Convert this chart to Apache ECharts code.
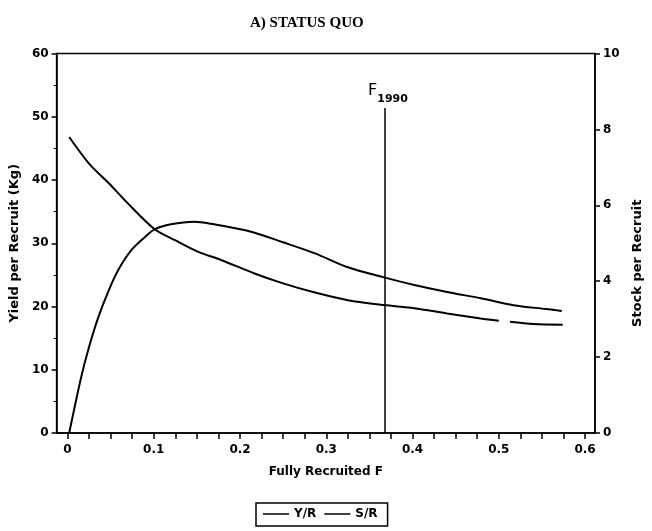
<!DOCTYPE html>
<html>
<head>
<meta charset="utf-8">
<script src="https://cdn.jsdelivr.net/npm/echarts@6/dist/echarts.min.js"></script>
<style>html,body{margin:0;padding:0;background:#fff;}#c{width:652px;height:531px;}</style>
</head>
<body>
<div id="c"></div>
<script>
// Fully recruited fishing mortality F (x) and Yield per Recruit (kg, left axis)
const yrF = [0.002, 0.016, 0.025, 0.036, 0.048, 0.059, 0.074, 0.090, 0.101, 0.120, 0.147, 0.170, 0.193, 0.216, 0.249, 0.287, 0.325, 0.367, 0.402, 0.440, 0.479, 0.517, 0.555, 0.573];
const yrV = [0, 8.9, 13.6, 18.4, 22.6, 25.8, 28.9, 31.0, 32.2, 33.0, 33.4, 33.0, 32.4, 31.7, 30.2, 28.4, 26.2, 24.6, 23.4, 22.3, 21.3, 20.2, 19.6, 19.3];
// Stock per Recruit (right axis); null marks the small break in the printed curve
const srF = [0.002, 0.025, 0.048, 0.070, 0.101, 0.124, 0.151, 0.178, 0.216, 0.249, 0.287, 0.325, 0.367, 0.402, 0.440, 0.479, 0.500, 0.507, 0.513, 0.540, 0.574];
const srV = [7.80, 7.10, 6.58, 6.05, 5.37, 5.09, 4.78, 4.56, 4.21, 3.95, 3.70, 3.50, 3.37, 3.29, 3.15, 3.02, 2.96, null, 2.93, 2.87, 2.85];
// Reference line F1990
const f1990 = 0.368;
const f1990Top = 51.4;
// Axis ticks / labels
const xLabels = [0, 0.1, 0.2, 0.3, 0.4, 0.5, 0.6];
const xTicks = [0,0.025,0.05,0.075,0.1,0.125,0.15,0.175,0.2,0.225,0.25,0.275,0.3,0.325,0.35,0.375,0.4,0.425,0.45,0.475,0.5,0.525,0.55,0.575,0.6];
const titleText = 'A) STATUS QUO';
const seriesNames = ['Y/R', 'S/R'];

const font = "'DejaVu Sans', sans-serif";
const lab = {color:'#000', fontFamily:font, fontWeight:'bold', fontSize:12};

const chart = echarts.init(document.getElementById('c'), null, {renderer:'canvas'});
chart.setOption({
  animation:false,
  backgroundColor:'#fff',
  title:{text:titleText, left:245, top:11, textStyle:{color:'#000', fontFamily:"'Liberation Serif', serif", fontWeight:'bold', fontSize:15}},
  legend:{data:seriesNames, left:256, top:503, orient:'horizontal', borderColor:'#000', borderWidth:1.5, borderRadius:0,
    icon:'rect', padding:[5,10,6,7], itemWidth:26, itemHeight:1.5, itemGap:8,
    textStyle:{color:'#000', fontFamily:font, fontWeight:'bold', fontSize:12}},
  grid:{left:56, right:53, top:53.5, bottom:98, show:true, borderColor:'#000', borderWidth:1.5, containLabel:false},
  xAxis:{type:'value', min:-0.0126, max:0.6115,
    name:'Fully Recruited F', nameLocation:'middle', nameGap:33, nameTextStyle:lab,
    axisLine:{show:true, onZero:false, lineStyle:{color:'#000', width:1.5}},
    axisTick:{show:true, inside:false, length:6, customValues:xTicks, lineStyle:{color:'#000', width:1.5}},
    axisLabel:{show:true, customValues:xLabels, margin:11, ...lab},
    splitLine:{show:false}},
  yAxis:[
    {type:'value', min:0, max:60, interval:10, position:'left',
      name:'Yield per Recruit (Kg)', nameLocation:'middle', nameGap:25, nameRotate:90, nameTextStyle:{...lab, fontSize:13},
      axisLine:{show:true, onZero:false, lineStyle:{color:'#000', width:1.5}},
      axisTick:{show:true, length:5, lineStyle:{color:'#000', width:1.5}},
      minorTick:{show:true, splitNumber:2, length:3, lineStyle:{color:'#000', width:1}},
      axisLabel:{margin:8, ...lab}, splitLine:{show:false}},
    {type:'value', min:0, max:10, interval:2, position:'right',
      name:'Stock per Recruit', nameLocation:'middle', nameGap:36, nameRotate:90, nameTextStyle:{...lab, fontSize:13, padding:[0,40,0,0]},
      axisLine:{show:true, onZero:false, lineStyle:{color:'#000', width:1.5}},
      axisTick:{show:true, length:5, lineStyle:{color:'#000', width:1.5}},
      axisLabel:{margin:8, ...lab}, splitLine:{show:false}}
  ],
  series:[
    {name:seriesNames[0], type:'line', yAxisIndex:0, symbol:'none', smooth:0.3,
      lineStyle:{color:'#000', width:2}, itemStyle:{color:'#000'},
      data:yrF.map((f,i)=>[f, yrV[i]]),
      markLine:{silent:true, symbol:'none', animation:false,
        lineStyle:{color:'#000', width:1.5, type:'solid'},
        label:{show:true, position:'end', distance:3, formatter:'{f|F}{s|1990}',
          rich:{f:{fontSize:16, fontFamily:font, color:'#000', verticalAlign:'top', lineHeight:22, padding:[0,0,0,6]},
                s:{fontSize:11, fontFamily:font, fontWeight:'bold', color:'#000', verticalAlign:'bottom', lineHeight:22}}},
        data:[[{coord:[f1990, 0]}, {coord:[f1990, f1990Top]}]]}},
    {name:seriesNames[1], type:'line', yAxisIndex:1, symbol:'none', smooth:0.3, connectNulls:false,
      lineStyle:{color:'#000', width:2}, itemStyle:{color:'#000'},
      data:srF.map((f,i)=>[f, srV[i]===null ? '-' : srV[i]])}
  ]
});
</script>
</body>
</html>
